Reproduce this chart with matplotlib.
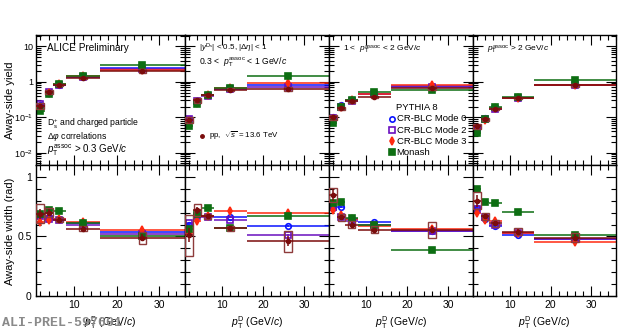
import matplotlib.pyplot as plt
from matplotlib.patches import Rectangle
from matplotlib.ticker import FixedLocator, FixedFormatter, MultipleLocator, NullFormatter

plt.rcParams['font.family'] = ['Liberation Sans', 'DejaVu Sans']
plt.rcParams['mathtext.fontset'] = 'custom'
plt.rcParams['mathtext.rm'] = 'Liberation Sans'
plt.rcParams['mathtext.it'] = 'Liberation Sans:italic'

# D-meson pT bins (GeV/c)
pt_lo = [1, 3, 5, 8, 16]
pt_hi = [3, 5, 8, 16, 36]

assoc_labels = [r'$p_{\rm T}^{\rm assoc}$ > 0.3 GeV/$c$',
                r'0.3 <  $p_{\rm T}^{\rm assoc}$ < 1 GeV/$c$',
                r'1 <  $p_{\rm T}^{\rm assoc}$ < 2 GeV/$c$',
                r'$p_{\rm T}^{\rm assoc}$ > 2 GeV/$c$']

# away-side yield, one row per associated-pT range
yield_data = [[0.21, 0.52, 0.80, 1.30, 2.00],
              [0.085, 0.30, 0.42, 0.60, 0.62],
              [0.10, 0.18, 0.28, 0.38, 0.66],
              [0.055, 0.088, 0.17, 0.35, 0.80]]
yield_stat = [[0.02, 0.04, 0.05, 0.08, 0.15],
              [0.01, 0.03, 0.03, 0.04, 0.06],
              [0.01, 0.015, 0.02, 0.03, 0.06],
              [0.006, 0.008, 0.012, 0.025, 0.07]]
yield_syst = [[0.04, 0.06, 0.06, 0.10, 0.25],
              [0.015, 0.04, 0.03, 0.05, 0.08],
              [0.015, 0.02, 0.02, 0.03, 0.09],
              [0.008, 0.008, 0.012, 0.025, 0.08]]
yield_mode0 = [[0.22, 0.50, 0.82, 1.40, 2.40],
               [0.090, 0.27, 0.42, 0.63, 0.82],
               [0.10, 0.22, 0.30, 0.45, 0.75],
               [0.046, 0.095, 0.18, 0.35, 0.82]]
yield_mode2 = [[0.23, 0.52, 0.80, 1.35, 2.30],
               [0.092, 0.28, 0.41, 0.62, 0.72],
               [0.095, 0.19, 0.29, 0.44, 0.70],
               [0.050, 0.088, 0.17, 0.34, 0.80]]
yield_mode3 = [[0.20, 0.48, 0.85, 1.45, 2.20],
               [0.080, 0.25, 0.43, 0.66, 0.95],
               [0.090, 0.20, 0.31, 0.46, 0.82],
               [0.044, 0.085, 0.18, 0.36, 0.80]]
yield_monash = [[0.15, 0.46, 0.86, 1.45, 2.90],
                [0.056, 0.24, 0.43, 0.65, 1.45],
                [0.068, 0.20, 0.31, 0.52, 0.60],
                [0.036, 0.090, 0.19, 0.37, 1.10]]

# away-side width (rad)
width_data = [[0.69, 0.70, 0.64, 0.565, 0.49],
              [0.51, 0.72, 0.67, 0.57, 0.46],
              [0.85, 0.66, 0.60, 0.555, 0.555],
              [0.80, 0.67, 0.61, 0.54, 0.49]]
width_stat = [[0.04, 0.03, 0.02, 0.02, 0.03],
              [0.06, 0.03, 0.02, 0.02, 0.04],
              [0.05, 0.02, 0.02, 0.02, 0.03],
              [0.05, 0.02, 0.02, 0.02, 0.03]]
width_syst = [[0.08, 0.04, 0.02, 0.02, 0.05],
              [0.17, 0.05, 0.02, 0.02, 0.09],
              [0.06, 0.03, 0.03, 0.03, 0.07],
              [0.07, 0.03, 0.03, 0.03, 0.04]]
width_mode0 = [[0.68, 0.66, 0.65, 0.615, 0.535],
               [0.60, 0.68, 0.67, 0.66, 0.59],
               [0.74, 0.75, 0.65, 0.625, 0.55],
               [0.74, 0.65, 0.59, 0.515, 0.48]]
width_mode2 = [[0.67, 0.65, 0.64, 0.60, 0.52],
               [0.61, 0.67, 0.66, 0.64, 0.515],
               [0.75, 0.66, 0.63, 0.60, 0.545],
               [0.73, 0.66, 0.60, 0.53, 0.475]]
width_mode3 = [[0.62, 0.64, 0.65, 0.625, 0.555],
               [0.53, 0.63, 0.67, 0.71, 0.70],
               [0.72, 0.68, 0.65, 0.59, 0.56],
               [0.70, 0.64, 0.63, 0.53, 0.457]]
width_monash = [[0.69, 0.72, 0.71, 0.61, 0.50],
                [0.56, 0.69, 0.74, 0.575, 0.668],
                [0.78, 0.79, 0.655, 0.60, 0.39],
                [0.90, 0.786, 0.78, 0.705, 0.515]]

C_DATA = '#7a0c0c'
C_BOX = '#8e3b3b'
models = [('CR-BLC Mode 0', '#0a14ff', 'o', 'none'),
          ('CR-BLC Mode 2', '#6a0fbf', 's', 'none'),
          ('CR-BLC Mode 3', '#ff2a10', 'd', None),
          ('Monash', '#0d6e12', 's', None)]

x = [(a + b) / 2 for a, b in zip(pt_lo, pt_hi)]
xerr = [(b - a) / 2 for a, b in zip(pt_lo, pt_hi)]


def draw_panel(ax, data, stat, syst, model_vals, log):
    for (name, col, mk, mfc), vals in zip(models, model_vals):
        err = [0.03 * v for v in vals] if log else [0.008] * len(vals)
        ax.errorbar(x, vals, xerr=xerr, yerr=err, fmt=mk, color=col, ms=4,
                    mfc=mfc if mfc else col, mew=1.2, elinewidth=1.1, capsize=0)
    for xi, yi, si in zip(x, data, syst):
        ax.add_patch(Rectangle((xi - 0.9, yi - si), 1.8, 2 * si, fill=False,
                               edgecolor=C_BOX, lw=1.0, zorder=4))
    ax.errorbar(x, data, xerr=xerr, yerr=stat, fmt='o', color=C_DATA, ms=3,
                elinewidth=1.1, capsize=0, zorder=5)


def style_axes(ax):
    ax.set_xlim(1, 36)
    ax.xaxis.set_major_locator(FixedLocator([10, 20, 30]))
    ax.xaxis.set_minor_locator(MultipleLocator(2))
    ax.tick_params(which='both', direction='in', top=True, right=True,
                   labelsize=7.5, width=0.8, pad=3)
    ax.tick_params(which='major', length=7)
    ax.tick_params(which='minor', length=3.5)
    for sp in ax.spines.values():
        sp.set_linewidth(1.0)


fig = plt.figure(figsize=(6.2, 3.31), dpi=100)
edges = [36, 185, 329, 473, 616]
W, H = 620, 331

for i in range(4):
    left = edges[i] / W
    width = (edges[i + 1] - edges[i]) / W
    ax_top = fig.add_axes([left, 1 - 165 / H, width, 130 / H])
    ax_bot = fig.add_axes([left, 1 - 296 / H, width, 131 / H])

    draw_panel(ax_top, yield_data[i], yield_stat[i], yield_syst[i],
               [yield_mode0[i], yield_mode2[i], yield_mode3[i], yield_monash[i]], True)
    draw_panel(ax_bot, width_data[i], width_stat[i], width_syst[i],
               [width_mode0[i], width_mode2[i], width_mode3[i], width_monash[i]], False)

    ax_top.set_yscale('log')
    ax_top.set_ylim(0.0045, 21)
    style_axes(ax_top)
    ax_top.yaxis.set_major_locator(FixedLocator([0.01, 0.1, 1, 10]))
    ax_top.xaxis.set_major_formatter(NullFormatter())

    ax_bot.set_ylim(0, 1.1)
    style_axes(ax_bot)
    ax_bot.yaxis.set_major_locator(FixedLocator([0, 0.5, 1]))
    ax_bot.yaxis.set_minor_locator(MultipleLocator(0.1))
    ax_bot.set_xlabel(r'$p_{\rm T}^{\rm D}$ (GeV/$c$)', fontsize=7.5, labelpad=3)

    if i == 0:
        ax_top.yaxis.set_major_formatter(FixedFormatter(['$10^{-2}$', '$10^{-1}$', '1', '10']))
        ax_top.yaxis.set_minor_formatter(NullFormatter())
        ax_top.tick_params(axis='y', labelsize=6.5, pad=2)
        ax_bot.yaxis.set_major_formatter(FixedFormatter(['0', '0.5', '1']))
        ax_top.text(0.074, 0.9, 'ALICE Preliminary', transform=ax_top.transAxes,
                    fontsize=7.2, va='center')
        ax_top.text(0.074, 0.318, r'D$_{\rm s}^{+}$ and charged particle',
                    transform=ax_top.transAxes, fontsize=6.2, va='center')
        ax_top.text(0.074, 0.222, r'$\Delta\varphi$ correlations',
                    transform=ax_top.transAxes, fontsize=6.2, va='center')
        ax_top.text(0.074, 0.112, assoc_labels[0], transform=ax_top.transAxes,
                    fontsize=7, va='center')
    else:
        ax_top.yaxis.set_major_formatter(NullFormatter())
        ax_top.yaxis.set_minor_formatter(NullFormatter())
        ax_bot.yaxis.set_major_formatter(NullFormatter())

    if i == 1:
        ax_top.text(0.1, 0.9, r'$|y^{\rm D_s}|$ < 0.5, $|\Delta\eta|$ < 1',
                    transform=ax_top.transAxes, fontsize=5.8, va='center')
        ax_top.text(0.1, 0.79, assoc_labels[1], transform=ax_top.transAxes,
                    fontsize=6.2, va='center')
        ax_top.plot([0.12], [0.223], 'o', color=C_DATA, ms=2.5, transform=ax_top.transAxes)
        ax_top.text(0.165, 0.223, r'pp,  $\sqrt{s}$ = 13.6 TeV',
                    transform=ax_top.transAxes, fontsize=5.7, va='center')
    if i in (2, 3):
        ax_top.text(0.1, 0.885, assoc_labels[i], transform=ax_top.transAxes,
                    fontsize=6, va='center')
    if i == 2:
        ax_top.text(0.465, 0.44, 'PYTHIA 8', transform=ax_top.transAxes,
                    fontsize=6.8, va='center')
        for k, (name, col, mk, mfc) in enumerate(models):
            yy = 0.354 - k * 0.085
            ax_top.plot([0.44], [yy], mk, color=col, ms=3.8, mew=1.2,
                        mfc=mfc if mfc else col, transform=ax_top.transAxes)
            ax_top.text(0.47, yy, name, transform=ax_top.transAxes,
                        fontsize=6.8, va='center')

fig.text(10 / W, 1 - 100 / H, 'Away-side yield', rotation=90, fontsize=8,
         ha='center', va='center')
fig.text(10 / W, 1 - 231 / H, 'Away-side width (rad)', rotation=90, fontsize=8,
         ha='center', va='center')
fig.text(0.003, 1 - 323 / H, 'ALI-PREL-597601', fontsize=9.5, color='#8a8a8a',
         family=['Liberation Mono', 'DejaVu Sans Mono'], fontweight='bold', va='center')

fig.savefig('out.png', dpi=100)
plt.close(fig)
